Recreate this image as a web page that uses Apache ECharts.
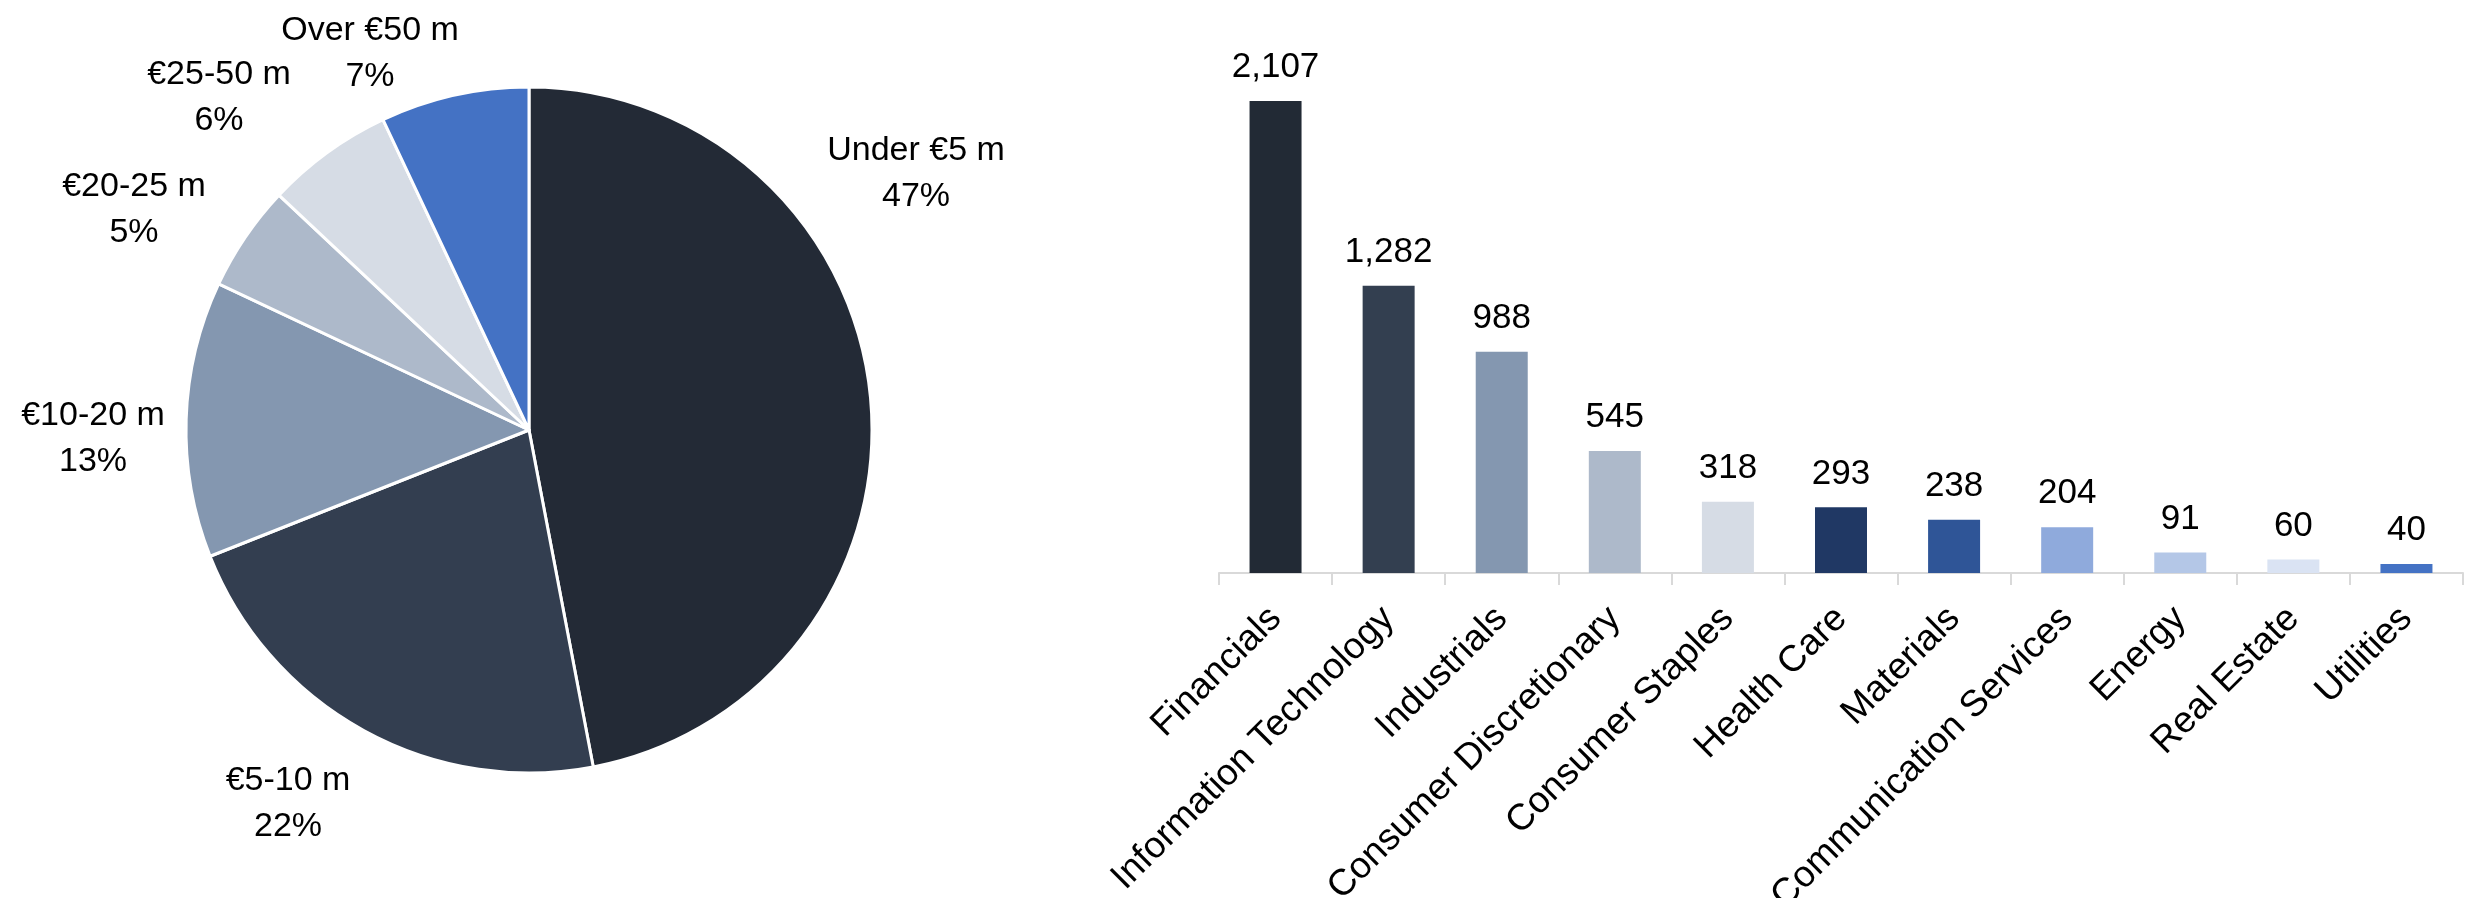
<!DOCTYPE html>
<html>
<head>
<meta charset="utf-8">
<script src="https://cdn.jsdelivr.net/npm/echarts@6/dist/echarts.min.js"></script>
<style>
html,body{margin:0;padding:0;background:#fff;}
#c{width:2476px;height:898px;}
</style>
</head>
<body>
<div id="c"></div>
<script>
// ---- data ----
const sizeBands = ['Under €5 m', '€5-10 m', '€10-20 m', '€20-25 m', '€25-50 m', 'Over €50 m'];
const sizeShares = [47, 22, 13, 5, 6, 7];
const sectors = ['Financials', 'Information Technology', 'Industrials', 'Consumer Discretionary',
  'Consumer Staples', 'Health Care', 'Materials', 'Communication Services', 'Energy', 'Real Estate', 'Utilities'];
const sectorCounts = [2107, 1282, 988, 545, 318, 293, 238, 204, 91, 60, 40];

// ---- styles ----
const pieColors = ['#232a36', '#333e50', '#8497b0', '#adb9ca', '#d6dce5', '#4472c4'];
const barColors = ['#222a35', '#333f50', '#8497b0', '#adb9ca', '#d6dce5', '#203864', '#2f5597', '#8faadc', '#b4c7e7', '#dae3f3', '#4472c4'];
// pie label block centres (pixel layout)
const pieLabelPos = [[916, 174], [288, 804], [93, 439], [134, 210], [219, 98], [370, 54]];
const FONT = '"Liberation Sans", Arial, sans-serif';

const chart = echarts.init(document.getElementById('c'), null, {renderer: 'canvas'});
chart.setOption({
  animation: false,
  backgroundColor: '#ffffff',
  textStyle: {fontFamily: FONT},
  grid: {left: 1219, right: 13, top: 101, bottom: 325, containLabel: false, outerBoundsMode: 'none'},
  xAxis: {
    type: 'category',
    data: sectors,
    axisLine: {show: true, lineStyle: {color: '#d9d9d9', width: 2}},
    axisTick: {show: true, length: 12, lineStyle: {color: '#d9d9d9', width: 2}},
    axisLabel: {rotate: 45, margin: 40, color: '#000', fontSize: 37, fontFamily: FONT, interval: 0}
  },
  yAxis: {type: 'value', min: 0, max: 'dataMax', show: false, splitLine: {show: false}},
  series: [
    {
      type: 'pie',
      center: [529, 430],
      radius: [0, 343],
      startAngle: 90,
      clockwise: true,
      data: sizeBands.map((n, i) => ({name: n, value: sizeShares[i], itemStyle: {color: pieColors[i]}})),
      itemStyle: {borderColor: '#ffffff', borderWidth: 3},
      label: {
        show: true, position: 'outside', formatter: '{b}\n{c}%', overflow: 'none', width: 300,
        color: '#000', fontSize: 34, lineHeight: 46, fontFamily: FONT, align: 'center'
      },
      labelLine: {show: false},
      labelLayout: function (p) {
        const pos = pieLabelPos[p.dataIndex];
        return {x: pos[0], y: pos[1], align: 'center', verticalAlign: 'middle', hideOverlap: false};
      }
    },
    {
      type: 'bar',
      barWidth: 52,
      data: sectorCounts.map((v, i) => ({value: v, itemStyle: {color: barColors[i]}})),
      label: {
        show: true, position: 'top', distance: 16, color: '#000', fontSize: 35, fontFamily: FONT,
        formatter: p => p.value.toLocaleString('en-US')
      }
    }
  ]
});
</script>
</body>
</html>
